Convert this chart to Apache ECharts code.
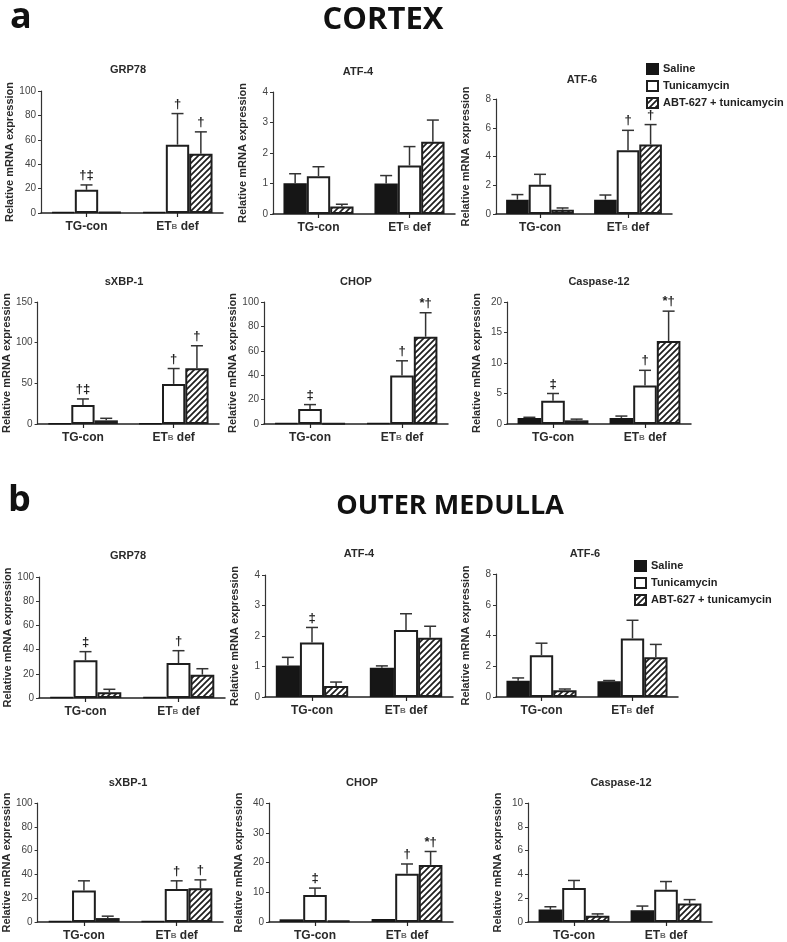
<!DOCTYPE html>
<html><head><meta charset="utf-8">
<script src="https://cdn.jsdelivr.net/npm/echarts@6/dist/echarts.min.js"></script>
<style>html,body{margin:0;padding:0;background:#fff}#c{width:787px;height:942px}</style>
</head><body><div id="c"></div>
<script>
// ---------------- DATA ----------------
const categories = ['TG-con', 'ETB def'];
const treatments = ['Saline', 'Tunicamycin', 'ABT-627 + tunicamycin'];
const panelTitles = ['GRP78', 'ATF-4', 'ATF-6', 'sXBP-1', 'CHOP', 'Caspase-12',
                     'GRP78', 'ATF-4', 'ATF-6', 'sXBP-1', 'CHOP', 'Caspase-12'];
const yMax  = [100, 4, 8, 150, 100, 20, 100, 4, 8, 100, 40, 10];
const yStep = [20, 1, 2, 50, 20, 5, 20, 1, 2, 20, 10, 2];

// rows = treatments (Saline, Tunicamycin, ABT-627 + tunicamycin), cols = categories
// Cortex
const cxGRP78     = [[1, 1], [19, 56], [1, 48.5]];
const cxGRP78Err  = [[null, null], [23, 81.5], [null, 66.5]];
const cxGRP78Sig  = [['', ''], ['†‡', '†'], ['', '†']];
const cxATF4      = [[1.01, 1.0], [1.24, 1.59], [0.25, 2.37]];
const cxATF4Err   = [[1.32, 1.26], [1.55, 2.21], [0.32, 3.08]];
const cxATF4Sig   = [['', ''], ['', ''], ['', '']];
const cxATF6      = [[1.0, 1.0], [2.04, 4.43], [0.3, 4.83]];
const cxATF6Err   = [[1.35, 1.32], [2.76, 5.82], [0.42, 6.22]];
const cxATF6Sig   = [['', ''], ['', '†'], ['', '†']];
const cxSXBP1     = [[0.8, 0.8], [23.4, 49.3], [4.5, 68.6]];
const cxSXBP1Err  = [[null, null], [30.8, 68.2], [7, 96.2]];
const cxSXBP1Sig  = [['', ''], ['†‡', '†'], ['', '†']];
const cxCHOP      = [[0.8, 0.8], [12.3, 39.7], [0.6, 71.5]];
const cxCHOPErr   = [[null, null], [15.9, 51.8], [null, 91.2]];
const cxCHOPSig   = [['', ''], ['‡', '†'], ['', '*†']];
const cxCASP12    = [[1.0, 1.0], [3.8, 6.3], [0.6, 13.6]];
const cxCASP12Err = [[1.1, 1.3], [5.0, 8.8], [0.8, 18.5]];
const cxCASP12Sig = [['', ''], ['‡', '†'], ['', '*†']];
// Outer medulla
const omGRP78     = [[0.8, 0.8], [31.1, 28.9], [4.7, 19.3]];
const omGRP78Err  = [[null, null], [38.3, 39.1], [7.2, 24.2]];
const omGRP78Sig  = [['', ''], ['‡', '†'], ['', '']];
const omATF4      = [[1.03, 0.96], [1.79, 2.2], [0.36, 1.94]];
const omATF4Err   = [[1.3, 1.02], [2.28, 2.73], [0.49, 2.32]];
const omATF4Sig   = [['', ''], ['‡', ''], ['', '']];
const omATF6      = [[1.05, 1.02], [2.72, 3.81], [0.44, 2.59]];
const omATF6Err   = [[1.24, 1.07], [3.5, 4.99], [0.52, 3.42]];
const omATF6Sig   = [['', ''], ['', ''], ['', '']];
const omSXBP1     = [[0.8, 0.8], [26.4, 27.8], [3.3, 28.3]];
const omSXBP1Err  = [[null, null], [34.6, 34.6], [4.9, 35.4]];
const omSXBP1Sig  = [['', ''], ['', '†'], ['', '†']];
const omCHOP      = [[0.9, 1.0], [9.05, 16.2], [0.5, 19.2]];
const omCHOPErr   = [[null, null], [11.4, 19.5], [null, 23.7]];
const omCHOPSig   = [['', ''], ['‡', '†'], ['', '*†']];
const omCASP12    = [[1.04, 0.98], [2.86, 2.7], [0.52, 1.55]];
const omCASP12Err = [[1.28, 1.34], [3.49, 3.4], [0.68, 1.88]];
const omCASP12Sig = [['', ''], ['', ''], ['', '']];

const panelMeans = [cxGRP78, cxATF4, cxATF6, cxSXBP1, cxCHOP, cxCASP12,
                    omGRP78, omATF4, omATF6, omSXBP1, omCHOP, omCASP12];
const panelErrs  = [cxGRP78Err, cxATF4Err, cxATF6Err, cxSXBP1Err, cxCHOPErr, cxCASP12Err,
                    omGRP78Err, omATF4Err, omATF6Err, omSXBP1Err, omCHOPErr, omCASP12Err];
const panelSigs  = [cxGRP78Sig, cxATF4Sig, cxATF6Sig, cxSXBP1Sig, cxCHOPSig, cxCASP12Sig,
                    omGRP78Sig, omATF4Sig, omATF6Sig, omSXBP1Sig, omCHOPSig, omCASP12Sig];

// ---------------- LAYOUT ----------------
const gridRects = [
  [41, 91, 182, 122], [273, 92, 182, 122], [496, 99, 176, 115],
  [37, 302, 182, 122], [264, 302, 184, 122], [507, 302, 184, 122],
  [39, 577, 186, 121], [265, 575, 188, 122], [496, 574, 182, 123],
  [37, 803, 186, 123], [269, 803, 184, 123], [528, 803, 184, 123]
];
const titlePos = [
  [128, 70], [358, 72], [582, 80], [124, 282], [356, 282], [599, 282],
  [128, 556], [359, 554], [585, 554], [128, 783], [362, 783], [621, 783]
];
const CAT_GAP = 0.23;
const FONT = '"Liberation Sans", Arial, sans-serif';

// hatch pattern
const hc = document.createElement('canvas');
hc.width = 6; hc.height = 6;
const hg = hc.getContext('2d');
hg.fillStyle = '#fff'; hg.fillRect(0, 0, 6, 6);
hg.strokeStyle = '#1e1e1e'; hg.lineWidth = 1.7;
hg.beginPath();
hg.moveTo(0, 6); hg.lineTo(6, 0);
hg.moveTo(-1, 1); hg.lineTo(1, -1);
hg.moveTo(5, 7); hg.lineTo(7, 5);
hg.stroke();
const hatch = { image: hc, repeat: 'repeat' };

const barStyles = [
  { color: '#161616', borderColor: '#161616', borderWidth: 1.5 },
  { color: '#ffffff', borderColor: '#1e1e1e', borderWidth: 2 },
  { color: hatch, borderColor: '#1e1e1e', borderWidth: 2 }
];

function makeRender(sig) {
  return function (params, api) {
    const ci = api.value(0), mean = api.value(1), top = api.value(2), k = api.value(3);
    const band = api.size([1, 0])[0];
    const bw = band * (1 - CAT_GAP) / 3;
    const cx = api.coord([ci, 0])[0] + (k - 1) * bw;
    const y0 = api.coord([ci, mean])[1];
    const y1 = api.coord([ci, top])[1];
    const children = [];
    if (top > mean) {
      children.push({ type: 'line', shape: { x1: cx, y1: y0, x2: cx, y2: y1 }, style: { stroke: '#333', lineWidth: 1.5 } });
      children.push({ type: 'line', shape: { x1: cx - 6, y1: y1, x2: cx + 6, y2: y1 }, style: { stroke: '#333', lineWidth: 1.5 } });
    }
    const s = sig[k][ci];
    if (s) {
      children.push({ type: 'text', style: { text: s, x: cx, y: y1 - 3, align: 'center', verticalAlign: 'bottom',
        font: 'bold 13px ' + FONT, fill: '#222' } });
    }
    return { type: 'group', children };
  };
}

const grid = [], xAxis = [], yAxis = [], series = [], graphic = [];
for (let p = 0; p < 12; p++) {
  const r = gridRects[p];
  grid.push({ left: r[0], top: r[1], width: r[2], height: r[3], containLabel: false });
  xAxis.push({
    gridIndex: p, type: 'category', data: categories,
    axisLine: { lineStyle: { color: '#222', width: 1.5 } },
    axisTick: { show: true, alignWithLabel: true, length: 4, lineStyle: { color: '#222', width: 1.2 } },
    axisLabel: {
      fontFamily: FONT, fontSize: 12, fontWeight: 'bold', color: '#2a2a2a', margin: 8,
      formatter: v => v === 'ETB def' ? 'ET{s|B} def' : v,
      rich: { s: { fontFamily: FONT, fontSize: 8, fontWeight: 'bold', color: '#666' } }
    },
    splitLine: { show: false }
  });
  yAxis.push({
    gridIndex: p, type: 'value', min: 0, max: yMax[p], interval: yStep[p],
    name: 'Relative mRNA expression', nameLocation: 'middle', nameRotate: 90, nameGap: 25,
    nameTextStyle: { fontFamily: FONT, fontSize: 11, fontWeight: 'bold', color: '#2a2a2a' },
    axisLine: { show: true, lineStyle: { color: '#333', width: 1.2 } },
    axisTick: { show: true, length: 3, lineStyle: { color: '#333' } },
    axisLabel: { fontFamily: FONT, fontSize: 10, color: '#444', margin: 5 },
    splitLine: { show: false }
  });
  const means = panelMeans[p], errs = panelErrs[p];
  const errData = [];
  for (let k = 0; k < 3; k++) {
    series.push({
      type: 'bar', name: treatments[k], xAxisIndex: p, yAxisIndex: p,
      data: means[k], barGap: '0%', barCategoryGap: (CAT_GAP * 100) + '%',
      itemStyle: barStyles[k], emphasis: { disabled: true }, animation: false
    });
    for (let ci = 0; ci < 2; ci++) {
      const e = errs[k][ci];
      errData.push([ci, means[k][ci], e == null ? means[k][ci] : e, k]);
    }
  }
  series.push({
    type: 'custom', xAxisIndex: p, yAxisIndex: p, data: errData, z: 5,
    encode: { x: 0, y: [1, 2] }, renderItem: makeRender(panelSigs[p]), animation: false, silent: true
  });
  graphic.push({ type: 'text', x: titlePos[p][0], y: titlePos[p][1],
    style: { text: panelTitles[p], align: 'center', verticalAlign: 'middle', font: 'bold 11px ' + FONT, fill: '#2a2a2a' } });
}

graphic.push({ type: 'text', x: 10, y: 18, style: { text: 'a', verticalAlign: 'middle', font: 'bold 36px "Open Sans", sans-serif', fill: '#111' } });
graphic.push({ type: 'text', x: 383, y: 20, style: { text: 'CORTEX', align: 'center', verticalAlign: 'middle', font: 'bold 31px "Open Sans", sans-serif', fill: '#111' } });
graphic.push({ type: 'text', x: 8, y: 501, style: { text: 'b', verticalAlign: 'middle', font: 'bold 36px "Open Sans", sans-serif', fill: '#111' } });
graphic.push({ type: 'text', x: 450, y: 506, style: { text: 'OUTER MEDULLA', align: 'center', verticalAlign: 'middle', font: 'bold 27px "Open Sans", sans-serif', fill: '#111' } });

const legendBase = {
  data: treatments, orient: 'vertical', icon: 'rect', itemWidth: 11, itemHeight: 10, itemGap: 5,
  selectedMode: false, padding: 0,
  textStyle: { fontFamily: FONT, fontSize: 11, fontWeight: 'bold', color: '#222' }
};
const legend = [
  Object.assign({}, legendBase, { left: 646, top: 63 }),
  Object.assign({}, legendBase, { left: 634, top: 560 })
];

const chart = echarts.init(document.getElementById('c'), null, { renderer: 'canvas' });
chart.setOption({ animation: false, backgroundColor: '#fff', grid, xAxis, yAxis, series, graphic, legend });
</script>
</body></html>
